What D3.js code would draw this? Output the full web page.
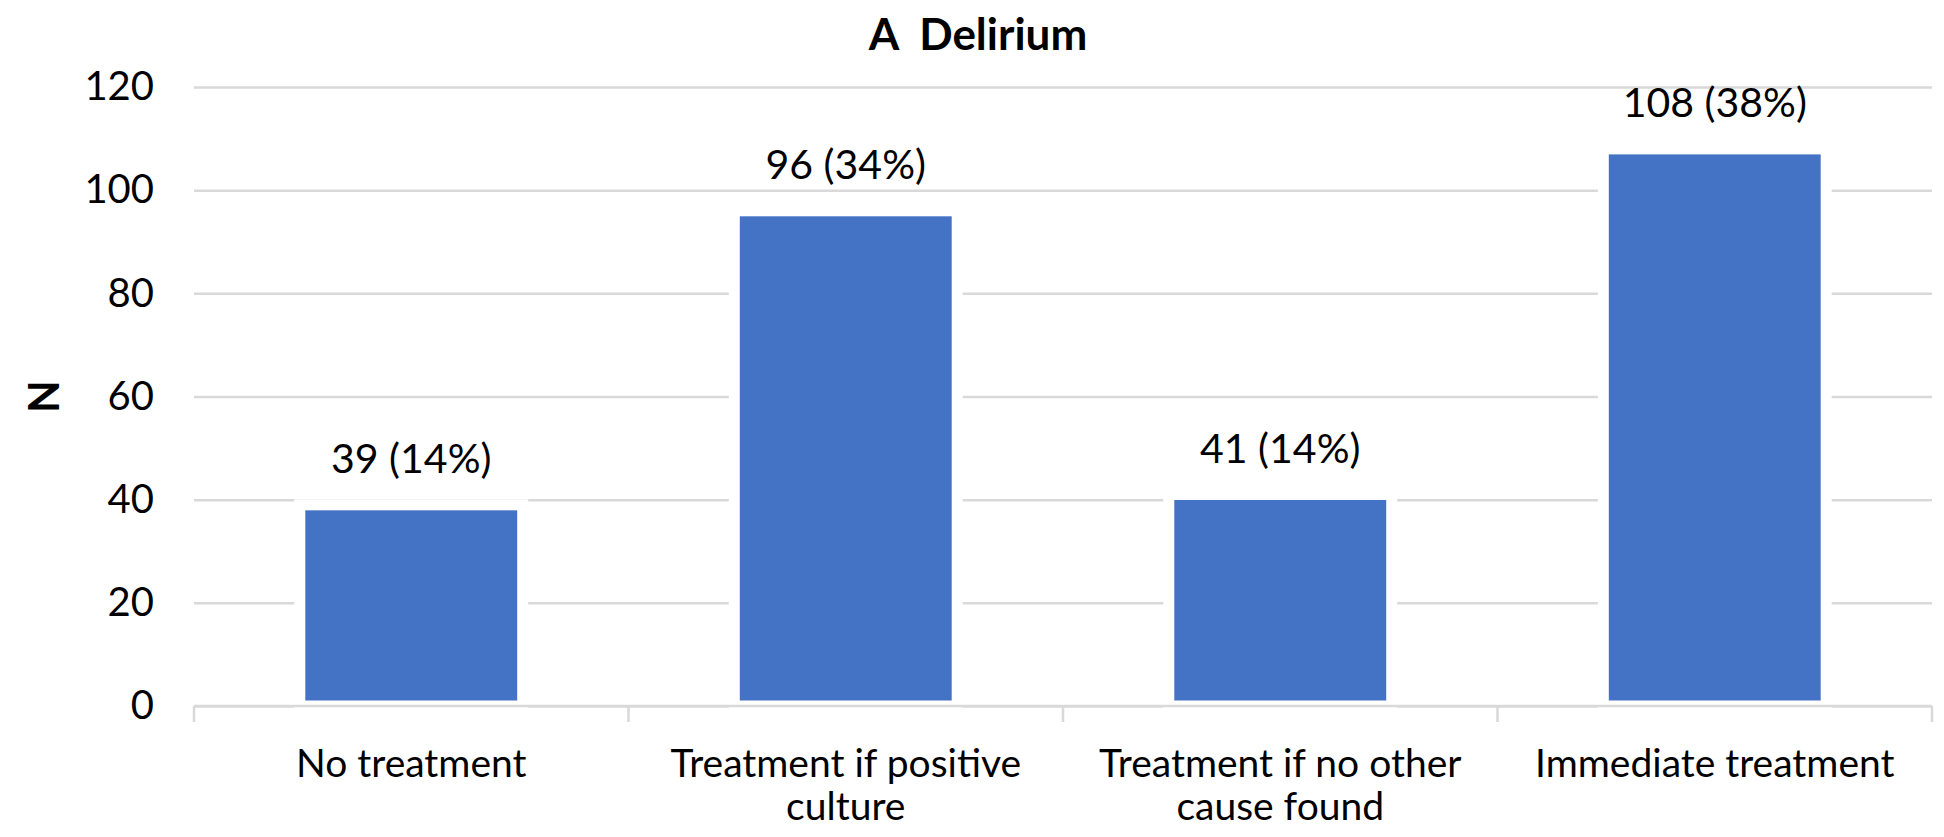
<!DOCTYPE html>
<html>
<head>
<meta charset="utf-8">
<script src="https://cdn.jsdelivr.net/npm/d3@7"></script>
<style>
  body { margin: 0; background: #fff; }
  text { font-family: Lato, "Noto Sans", sans-serif; fill: #000; }
</style>
</head>
<body>
<div id="chart"></div>
<script>
const categories = [
  "No treatment",
  "Treatment if positive culture",
  "Treatment if no other cause found",
  "Immediate treatment"
];
const counts = [39, 96, 41, 108];
const percents = [14, 34, 14, 38];
const yTicks = [0, 20, 40, 60, 80, 100, 120];
const title = "A\u00a0\u00a0Delirium";
const yTitle = "N";

const width = 1944,
  height = 837;
const margin = { top: 87, right: 12, bottom: 131, left: 194 };
const innerW = width - margin.left - margin.right;
const innerH = height - margin.top - margin.bottom;

const data = categories.map((c, i) => ({ cat: c, n: counts[i], pct: percents[i] }));

const svg = d3.select("#chart").append("svg")
  .attr("width", width)
  .attr("height", height);

const g = svg.append("g").attr("transform", `translate(${margin.left},${margin.top})`);

const x = d3.scaleBand()
  .domain(categories)
  .range([0, innerW])
  .paddingInner(0.487)
  .paddingOuter(0.2435);

const y = d3.scaleLinear().domain([0, 120]).range([innerH, 0]);

// gridlines + y labels
const yAxis = g.append("g")
  .call(d3.axisLeft(y).tickValues(yTicks).tickSize(-innerW).tickPadding(40));
yAxis.select(".domain").remove();
yAxis.selectAll(".tick line").attr("stroke", "#d9d9d9").attr("stroke-width", 2.5);
yAxis.selectAll(".tick text")
  .attr("font-size", 40)
  .style("font-family", "Lato, sans-serif")
  .attr("fill", "#000");

// bars, white outline hides the grid right next to them (excel look)
g.selectAll("rect.bar")
  .data(data)
  .join("rect")
  .attr("class", "bar")
  .attr("x", (d) => x(d.cat))
  .attr("y", (d) => y(d.n))
  .attr("width", x.bandwidth())
  .attr("height", (d) => innerH - y(d.n))
  .attr("fill", "#4472c4")
  .attr("stroke", "#fff")
  .attr("stroke-width", 11);

// data labels
g.selectAll("text.val")
  .data(data)
  .join("text")
  .attr("class", "val")
  .attr("x", (d) => x(d.cat) + x.bandwidth() / 2)
  .attr("y", (d) => y(d.n) - 32)
  .attr("text-anchor", "middle")
  .attr("font-size", 41)
  .text((d) => `${d.n} (${d.pct}%)`);

// x axis baseline and category separators
const bounds = d3.range(categories.length + 1).map((i) => i * x.step());
g.append("line")
  .attr("x1", 0).attr("x2", innerW)
  .attr("y1", innerH).attr("y2", innerH)
  .attr("stroke", "#d9d9d9").attr("stroke-width", 2.5);
g.selectAll("line.sep")
  .data(bounds)
  .join("line")
  .attr("class", "sep")
  .attr("x1", (d) => d).attr("x2", (d) => d)
  .attr("y1", innerH).attr("y2", innerH + 16)
  .attr("stroke", "#d9d9d9").attr("stroke-width", 2.5);

// category labels, wrapped to the band
const catLabels = g.selectAll("text.cat")
  .data(data)
  .join("text")
  .attr("class", "cat")
  .attr("text-anchor", "middle")
  .attr("font-size", 39)
  .attr("transform", (d) => `translate(${x(d.cat) + x.bandwidth() / 2},${innerH + 71})`);

catLabels.each(function (d) {
  const el = d3.select(this);
  const words = d.cat.split(" ");
  let line = [];
  let lineNo = 0;
  let tspan = el.append("tspan").attr("x", 0).attr("y", 0);
  for (const w of words) {
    line.push(w);
    tspan.text(line.join(" "));
    if (tspan.node().getComputedTextLength() > 420 && line.length > 1) {
      line.pop();
      tspan.text(line.join(" "));
      line = [w];
      lineNo++;
      tspan = el.append("tspan").attr("x", 0).attr("y", lineNo * 43).text(w);
    }
  }
});

// title
svg.append("text")
  .attr("x", 978)
  .attr("y", 50)
  .attr("text-anchor", "middle")
  .attr("font-size", 44)
  .attr("font-weight", 700)
  .text(title);

// y axis title
svg.append("text")
  .attr("transform", `translate(59,${margin.top + y(60)}) rotate(-90)`)
  .attr("text-anchor", "middle")
  .attr("font-size", 42)
  .attr("font-weight", 700)
  .text(yTitle);
</script>
</body>
</html>
